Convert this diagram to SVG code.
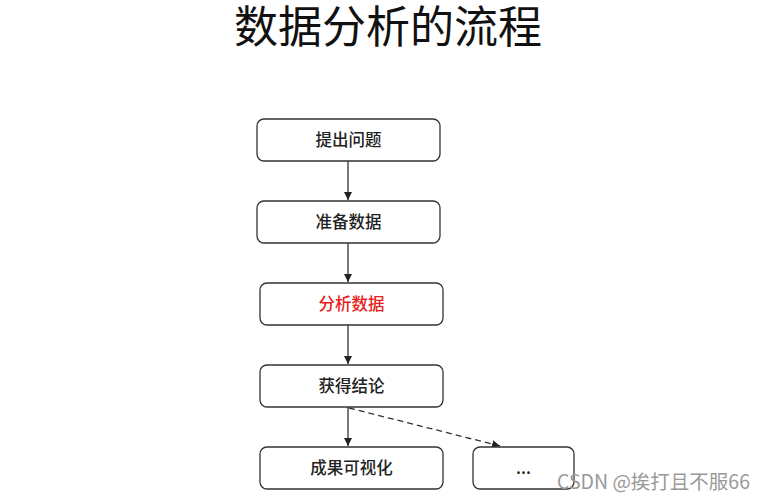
<svg xmlns="http://www.w3.org/2000/svg" width="767" height="499" viewBox="0 0 767 499">
<defs>
<style>
.box{fill:#fff;stroke:#333;stroke-width:1.3}
.t{font-family:"Noto Sans CJK SC","Liberation Sans",sans-serif;font-size:16.5px;font-weight:500;fill:#222;text-anchor:middle}
.c{stroke:#333;stroke-width:1.3;fill:none}
</style>
<marker id="ah" viewBox="0 0 10 10" refX="10" refY="5" markerWidth="8" markerHeight="8" orient="auto" markerUnits="userSpaceOnUse"><path d="M0,0 L10,5 L0,10 z" fill="#222"/></marker>
</defs>
<rect width="767" height="499" fill="#fff"/>
<text x="388" y="43" font-family="'Noto Sans CJK SC',sans-serif" font-size="44" fill="#111" text-anchor="middle">数据分析的流程</text>
<g id="connectors">
<line class="c" x1="348" y1="161" x2="348" y2="200" marker-end="url(#ah)"/>
<line class="c" x1="348" y1="243" x2="348" y2="282" marker-end="url(#ah)"/>
<line class="c" x1="348" y1="325" x2="348" y2="364" marker-end="url(#ah)"/>
<line class="c" x1="348" y1="407" x2="348" y2="446" marker-end="url(#ah)"/>
<line class="c" x1="349" y1="408" x2="500" y2="446" stroke-dasharray="6,4" marker-end="url(#ah)"/>
</g>
<g id="n1"><rect class="box" x="257" y="119" width="183" height="42" rx="7"/><text class="t" x="348.5" y="146">提出问题</text></g>
<g id="n2"><rect class="box" x="257" y="201" width="183" height="42" rx="7"/><text class="t" x="348.5" y="228">准备数据</text></g>
<g id="n3"><rect class="box" x="260" y="283" width="183" height="42" rx="7"/><text class="t" x="351.5" y="310" style="fill:#e8201a">分析数据</text></g>
<g id="n4"><rect class="box" x="260" y="365" width="183" height="42" rx="7"/><text class="t" x="351.5" y="392">获得结论</text></g>
<g id="n5"><rect class="box" x="260" y="447" width="183" height="42" rx="7"/><text class="t" x="351.5" y="474">成果可视化</text></g>
<g id="n6"><rect class="box" x="473" y="447" width="101" height="42" rx="7"/><text class="t" x="523.5" y="474">...</text></g>
<text x="557" y="489" font-family="'Noto Sans CJK SC',sans-serif" font-size="19.5" fill="#999">CSDN @挨打且不服66</text>
</svg>
